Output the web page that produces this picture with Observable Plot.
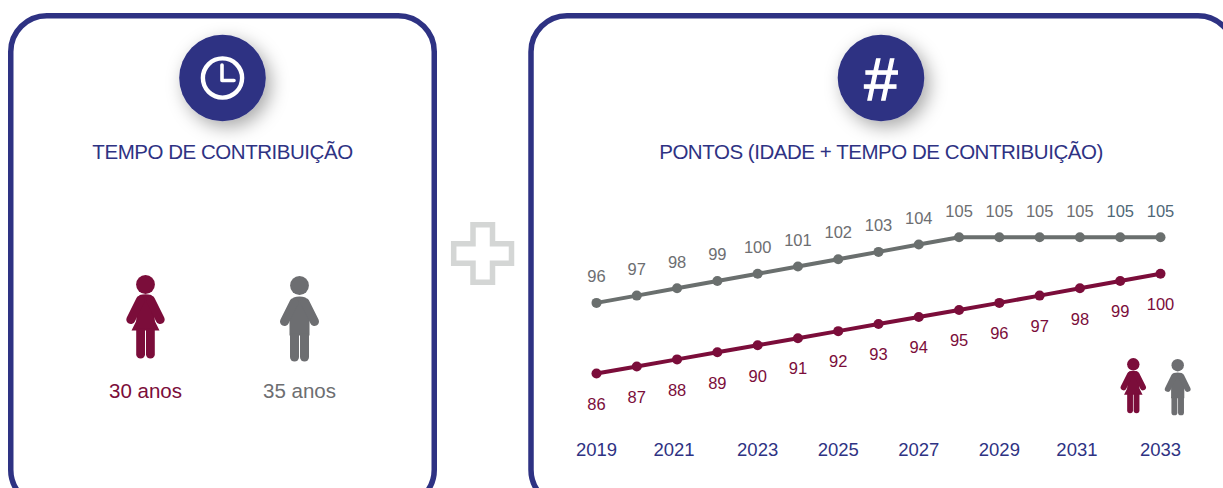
<!DOCTYPE html>
<html lang="pt">
<head>
<meta charset="utf-8">
<style>
html,body{margin:0;padding:0;background:#fff;overflow:hidden}
svg{display:block}
</style>
<script src="https://cdn.jsdelivr.net/npm/d3@7"></script>
<script src="https://cdn.jsdelivr.net/npm/@observablehq/plot@0.6"></script>
</head>
<body>
<div id="chart"></div>
<script>
const years = [2019,2020,2021,2022,2023,2024,2025,2026,2027,2028,2029,2030,2031,2032,2033];
const menPoints = [96,97,98,99,100,101,102,103,104,105,105,105,105,105,105];
const womenPoints = [86,87,88,89,90,91,92,93,94,95,96,97,98,99,100];
const yearTicks = [2019,2023,2025,2027,2029,2033];
const yearTicksShifted = [2021,2031];
const panelTitles = ["TEMPO DE CONTRIBUIÇÃO","PONTOS (IDADE + TEMPO DE CONTRIBUIÇÃO)"];
const contribution = ["30 anos","35 anos"];

const NAVY="#2e3283", WINE="#7b0d3a", GREY="#6d6e71", LINEGREY="#6a6f6e", DARKGREY="#4f6877", FONT="'Liberation Sans',Arial,sans-serif";
const men = years.map((year,i)=>({year,value:menPoints[i]}));
const women = years.map((year,i)=>({year,value:womenPoints[i]}));
const NS="http://www.w3.org/2000/svg";

function decor(){
  const g=d3.select(document.createElementNS(NS,"g"));
  const defs=g.append("defs");
  const f=defs.append("filter").attr("id","sh").attr("x","-50%").attr("y","-50%").attr("width","200%").attr("height","200%");
  f.append("feDropShadow").attr("dx",5).attr("dy",6).attr("stdDeviation",9).attr("flood-color","#000").attr("flood-opacity",.34);
  g.append("rect").attr("x",10.75).attr("y",15.75).attr("width",423.5).attr("height",490).attr("rx",36)
    .attr("fill","none").attr("stroke",NAVY).attr("stroke-width",5.5);
  g.append("rect").attr("x",531).attr("y",15.75).attr("width",703).attr("height",490).attr("rx",36)
    .attr("fill","none").attr("stroke",NAVY).attr("stroke-width",5.5);
  [222.5,881].forEach(cx=>g.append("circle").attr("cx",cx).attr("cy",78).attr("r",43.3).attr("fill",NAVY).attr("filter","url(#sh)"));
  g.append("circle").attr("cx",222.5).attr("cy",78).attr("r",19.6).attr("fill","none").attr("stroke","#fff").attr("stroke-width",4.4);
  g.append("path").attr("d","M222 65V80.5H234").attr("fill","none").attr("stroke","#fff").attr("stroke-width",3.6).attr("stroke-linecap","round").attr("stroke-linejoin","round");
  g.append("text").attr("x",881).attr("y",100).attr("text-anchor","middle").attr("font-family",FONT).attr("font-size",60)
    .attr("fill","#fff").attr("stroke","#fff").attr("stroke-width",1.3).text("#");
  [[222.5,panelTitles[0]],[881,panelTitles[1]]].forEach(([x,t])=>g.append("text").attr("x",x).attr("y",158.8)
    .attr("text-anchor","middle").attr("font-family",FONT).attr("font-size",20.5).attr("letter-spacing","-0.46").attr("fill",NAVY).text(t));
  g.append("path").attr("d","M473 224.7H492.5V243.7H511.5V263.3H492.5V282.3H473V263.3H453.7V243.7H473Z")
    .attr("fill","none").attr("stroke","#d4d6d5").attr("stroke-width",5.5);
  person(g,"woman",145.5,284.5,1,WINE);
  person(g,"man",299.5,285.5,1,GREY);
  person(g,"woman",1133.3,364.3,.66,WINE);
  person(g,"man",1177.7,365.2,.66,GREY);
  [[145.5,contribution[0],WINE],[299.5,contribution[1],GREY]].forEach(([x,t,c])=>g.append("text").attr("x",x).attr("y",398)
    .attr("text-anchor","middle").attr("font-family",FONT).attr("font-size",20.5).attr("letter-spacing","0").attr("fill",c).text(t));
  return g.node();
}
function person(g,kind,cx,cy,s,c){
  const p=g.append("g").attr("transform",`translate(${cx},${cy}) scale(${s})`).attr("fill",c).attr("stroke","none");
  p.append("circle").attr("r",9.4);
  const arm=(x1,y1,x2,y2)=>p.append("path").attr("d",`M${x1} ${y1}L${x2} ${y2}`).attr("stroke",c).attr("stroke-width",9).attr("stroke-linecap","round");
  if(kind==="woman"){
    p.append("path").attr("d","M-6 10.5Q0 9 6 10.5L9.5 37L14 46H-14L-9.5 37Z");
    arm(-5,15.5,-14.7,35); arm(5,15.5,14.7,35);
    p.append("path").attr("d","M-9.3 44H-.5V69.7A4.4 4.4 0 0 1-9.3 69.7Z");
    p.append("path").attr("d","M.5 44H9.3V69.7A4.4 4.4 0 0 1 .5 69.7Z");
  } else {
    p.append("path").attr("d","M-6 12Q0 10 6 12L10 20V50H-10V20Z");
    arm(-5.5,17,-15,36); arm(5.5,17,15,36);
    p.append("path").attr("d","M-9.5 48H-.5V71.5A4.5 4.5 0 0 1-9.5 71.5Z");
    p.append("path").attr("d","M.5 48H9.5V71.5A4.5 4.5 0 0 1 .5 71.5Z");
  }
}

const labelFont={fontFamily:FONT,fontSize:16.5};
const tickOptions={anchor:"bottom",tickSize:0,tickPadding:-8,tickFormat:d=>String(d),label:null,fill:NAVY,fontSize:18.5,fontFamily:FONT};
const chart = Plot.plot({
  width:1223, height:488,
  marginTop:0, marginRight:0, marginBottom:38, marginLeft:0,
  style:{background:"transparent",fontFamily:FONT,overflow:"hidden"},
  x:{type:"linear",domain:[2019,2033],range:[596,1160]},
  y:{type:"linear",domain:[86,96,105],range:[373,302.4,236.8],axis:null},
  marks:[
    decor,
    Plot.axisX(yearTicks,tickOptions),
    Plot.axisX(yearTicksShifted,{...tickOptions,dx:-3}),
    Plot.line(men,{x:"year",y:"value",stroke:LINEGREY,strokeWidth:4}),
    Plot.dot(men,{x:"year",y:"value",fill:LINEGREY,r:5}),
    Plot.line(women,{x:"year",y:"value",stroke:WINE,strokeWidth:4}),
    Plot.dot(women,{x:"year",y:"value",fill:WINE,r:5}),
    Plot.text(men,{x:"year",y:"value",text:"value",dy:-26,fill:d=>d.year>=2032?DARKGREY:GREY,...labelFont}),
    Plot.text(women,{x:"year",y:"value",text:"value",dy:31,fill:WINE,...labelFont})
  ]
});
document.getElementById("chart").append(chart);
</script>
</body>
</html>
